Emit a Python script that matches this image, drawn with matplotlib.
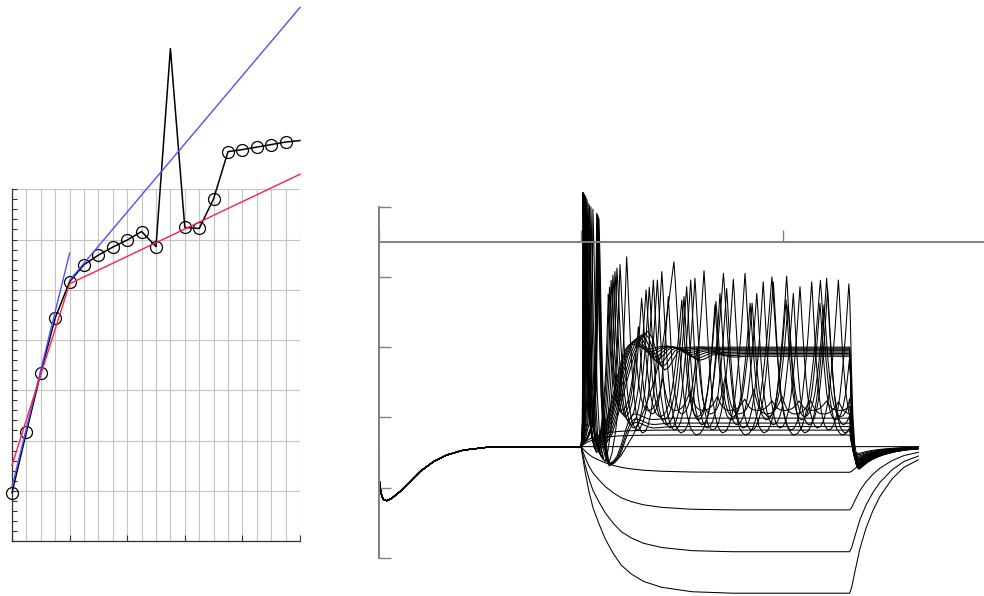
import numpy as np
import matplotlib
matplotlib.use('Agg')
import matplotlib.pyplot as plt

# ---------------- left panel: rate vs current step ----------------
fi_step = list(range(21))
fi_rate = [9.6, 21.7, 33.5, 44.4, 51.6, 55.0, 56.9, 58.5, 59.9, 61.6, 58.6,
           98.0, 62.4, 62.2, 68.1, 77.5, 77.9, 78.4, 78.9, 79.4, 79.7]
fi_marked = [0, 1, 2, 3, 4, 5, 6, 7, 8, 9, 10, 12, 13, 14, 15, 16, 17, 18, 19]
blue_fit_low = ([0, 4], [10.8, 57.3])
blue_fit_high = ([4, 20], [51.9, 106.2])
red_fit = ([0, 4, 20], [15.1, 51.2, 73.0])

# ---------------- right panel: voltage traces (ms, mV) ----------------
rest_v = -58.3
stim_on, stim_off, t_end = 100.0, 233.0, 267.0
init_t = [0, 0.15, 1.0, 2.1, 3.8, 6.3, 10.4, 15.3, 20.3, 26.9, 33.5, 41.7, 53.3, 70, 100]
init_v = [-60.2, -67.8, -71.6, -73.3, -73.7, -73.0, -71.1, -68.3, -65.4, -62.6,
          -60.7, -59.3, -58.5, -58.3, -58.3]

# shapes (time offset / fraction of the change)
charge_dt = [0, 2, 4, 6, 9, 12, 16, 20, 25, 31, 40, 55, 75, 133]
charge_f = [0, .17, .31, .42, .53, .63, .73, .81, .87, .92, .96, .99, 1.0, 1.0]
recover_dt = [0, 1, 2.5, 5, 8, 11.4, 15, 21, 27, 34]
recover_f = [0, .04, .14, .30, .44, .56, .66, .78, .86, .91]
up_t = [0, .4, .7, .85, .93, 1.0]
up_f = [0, .04, .1, .25, .6, 1.0]
fall_t = [0, .08, .2, .35, .55, .78, 1.0]
fall_f = [0, .15, .45, .72, .9, .98, 1.0]
rise_t = [0, .18, .37, .55, .7, .82, .91, 1.0]
rise_f = [0, .05, .15, .28, .42, .58, .78, 1.0]
cyc_fall_t = [0, .05, .1, .18, .25, .35, .45, .6, .75, .9, 1.0]
cyc_fall_f = [0, .09, .2, .36, .5, .65, .78, .89, .96, .99, 1.0]
cyc_rise_t = [0, .15, .3, .43, .55, .65, .75, .83, .9, .95, 1.0]
cyc_rise_f = [0, .01, .05, .12, .22, .35, .5, .64, .78, .89, 1.0]
hump_t = [0, .15, .3, .45, .6, .75, .88, 1.0]
hump_f = [0, .05, .15, .35, .6, .82, .95, 1.0]
half_t = [0, .25, .5, .75, 1.0]
half_f = [0, .15, .5, .85, 1.0]
ring = [1.0, -0.55, 0.3, -0.16, 0.08, -0.03, 0.0]

hyper_levels = [-65.6, -76.3, -88.2, -100.0]
sub_levels = [-55.0, -53.6]
sub_post = [-60.2, -60.6]

settle_tp = [108.9, 108.6, 108.3]
settle_peak = [6.5, 7.0, 7.5]
settle_trough = [-63.5, -63.3, -63.1]
settle_level = [-52.6, -51.6, -50.2]
settle_post = [-61.0, -61.3, -61.6]

train_tp = [108.0, 107.8, 105.9, 104.9, 104.2, 103.5, 103.0, 102.5, 102.3]
train_onset_peak = [7.8, 8.1, 9.3, 9.9, 10.4, 11.0, 11.9, 12.4, 12.6]
train_trough1 = [-63.8, -63.0, -62.6, -62.0, -61.3, -60.5, -59.5, -58.5, -58.0]
train_spikes = [
    [146.0, 170.5, 194.5, 218.5],
    [122.6, 140.0, 160.9, 181.2, 201.8, 221.6],
    [119.3, 137.8, 156.4, 175.4, 195.2, 214.2, 232.6],
    [117.8, 135.8, 154.3, 172.1, 190.2, 208.4, 227.4],
    [116.8, 133.8, 152.3, 168.8, 187.0, 205.1, 222.1],
    [115.8, 132.2, 151.0, 166.3, 183.7, 201.5, 218.3],
    [114.9, 130.0, 149.9, 166.8, 184.7, 202.5, 220.3],
    [114.1, 128.4, 143.2, 157.5, 171.5, 185.5, 199.5, 213.5, 227.5],
    [113.5, 127.0, 140.5, 154.0, 167.5, 181.0, 194.5, 208.0, 221.5],
]
train_peaks = [
    [-5.7, -9.0, -10.0, -11.0],
    [-4.3, -8.5, -8.3, -9.0, -9.8, -10.4],
    [-6.5, -10.9, -10.4, -10.7, -11.4, -11.4, -12.0],
    [-7.5, -10.9, -10.9, -13.3, -11.4, -12.8, -10.9],
    [-8.5, -13.0, -12.8, -14.7, -14.7, -14.7, -13.5],
    [-9.5, -13.7, -15.6, -18.0, -17.5, -16.5, -17.5],
    [-11.0, -16.1, -16.6, -17.0, -17.5, -18.0, -18.0],
    [-13.0, -24.2, -15.6, -30.0, -38.0, -42.0, -44.0, -45.0, -45.5],
    [-15.0, -32.0, -39.0, -42.5, -44.0, -44.8, -45.2, -45.3, -45.3],
]
train_trough = [-55.0, -54.4, -53.6, -53.0, -52.1, -50.7, -49.8, -49.0, -48.0]
train_post = [-61.8, -62.0, -62.2, -62.4, -62.6, -62.8, -63.0, -63.2, -63.3]

block_tp = [102.2, 102.0, 101.8, 101.6, 101.4, 101.2, 101.0, 100.9]
block_peak = [12.8, 13.0, 13.2, 13.4, 13.6, 13.8, 13.9, 14.0]
block_trough = [-60.0, -59.5, -59.0, -58.5, -58.0, -57.5, -57.0, -56.5]
block_hump_t = [133.0, 131.5, 130.0, 128.5, 127.5, 126.5, 125.5, 124.5]
block_hump_v = [-25.5, -26.0, -26.5, -27.0, -27.5, -28.0, -28.5, -29.0]
block_level = [-32.6, -32.2, -31.8, -31.4, -31.0, -30.6, -30.3, -30.0]
block_post = [-63.5, -63.7, -63.9, -64.1, -64.3, -64.5, -64.6, -64.7]


def offs(t0, v0, v1, dt, f):
    return [t0 + d for d in dt], [v0 + (v1 - v0) * x for x in f]


def scaled(t0, t1, v0, v1, st, sf):
    return offs(t0, v0, v1, [(t1 - t0) * s for s in st], sf)


class Trace:
    def __init__(self):
        self.t = list(init_t)
        self.v = list(init_v)

    def add(self, part):
        self.t += part[0][1:]
        self.v += part[1][1:]

    def cut_and_end(self, post_trough):
        t = np.array(self.t)
        v = np.array(self.v)
        keep = t < stim_off
        v_off = np.interp(stim_off, t, v)
        self.t = list(t[keep]) + [stim_off]
        self.v = list(v[keep]) + [v_off]
        self.add(scaled(stim_off, stim_off + 4.5, v_off, post_trough, fall_t, fall_f))
        self.add(offs(stim_off + 4.5, post_trough, rest_v,
                      [d * (t_end - stim_off - 4.5) / 34 for d in recover_dt], recover_f))


def onset(tr, tp, pk, trough, dur=6.0):
    tr.add(scaled(stim_on, tp, rest_v, pk, up_t, up_f))
    tr.add(scaled(tp, tp + dur, pk, trough, fall_t, fall_f))
    return tp + dur


traces = []

flat = Trace()
flat.add(([stim_on, t_end], [rest_v, rest_v]))
traces.append(flat)

for lvl in hyper_levels:
    tr = Trace()
    tr.add(offs(stim_on, rest_v, lvl, charge_dt, charge_f))
    tr.add(offs(stim_off, lvl, rest_v, recover_dt, recover_f))
    traces.append(tr)

for lvl, post in zip(sub_levels, sub_post):
    tr = Trace()
    tr.add(offs(stim_on, rest_v, lvl, [d * 0.6 for d in charge_dt], charge_f))
    tr.cut_and_end(post)
    traces.append(tr)

for tp, pk, tro, lvl, post in zip(settle_tp, settle_peak, settle_trough, settle_level, settle_post):
    tr = Trace()
    t0 = onset(tr, tp, pk, tro)
    tr.add(scaled(t0, t0 + 12, tro, lvl + 1.2, hump_t, hump_f))
    tr.add(scaled(t0 + 12, t0 + 21, lvl + 1.2, lvl - 0.4, half_t, half_f))
    tr.add(scaled(t0 + 21, t0 + 30, lvl - 0.4, lvl, half_t, half_f))
    tr.add(([t0 + 30, stim_off + 1], [lvl, lvl]))
    tr.cut_and_end(post)
    traces.append(tr)

for k in range(len(train_tp)):
    tr = Trace()
    t0 = onset(tr, train_tp[k], train_onset_peak[k], train_trough1[k])
    sp, pkv, tro = train_spikes[k], train_peaks[k], train_trough[k]
    tr.add(scaled(t0, sp[0], train_trough1[k], pkv[0], rise_t, rise_f))
    for i in range(len(sp)):
        if i + 1 < len(sp):
            isi, nxt_t, nxt_v = sp[i + 1] - sp[i], sp[i + 1], pkv[i + 1]
        else:
            isi = sp[i] - sp[i - 1]
            nxt_t, nxt_v = sp[i] + isi, pkv[i]
        tm = sp[i] + 0.45 * isi
        tr.add(scaled(sp[i], tm, pkv[i], tro, cyc_fall_t, cyc_fall_f))
        tr.add(scaled(tm, nxt_t, tro, nxt_v, cyc_rise_t, cyc_rise_f))
    tr.cut_and_end(train_post[k])
    traces.append(tr)

for k in range(len(block_tp)):
    tr = Trace()
    t0 = onset(tr, block_tp[k], block_peak[k], block_trough[k], dur=5.5)
    ht, hv, lvl = block_hump_t[k], block_hump_v[k], block_level[k]
    tr.add(scaled(t0, ht, block_trough[k], hv, hump_t, hump_f))
    prev_t, prev_v = ht, hv
    for j in range(1, len(ring)):
        nt, nv = ht + 8.5 * j, lvl + (hv - lvl) * ring[j]
        tr.add(scaled(prev_t, nt, prev_v, nv, half_t, half_f))
        prev_t, prev_v = nt, nv
    tr.add(([prev_t, stim_off + 1], [prev_v, lvl]))
    tr.cut_and_end(block_post[k])
    traces.append(tr)

# ---------------- figure ----------------
fig = plt.figure(figsize=(9.84, 5.96), dpi=100)

ax1 = fig.add_axes([12 / 984, 55 / 596, 288 / 984, 351.7 / 596])
ax1.set_xlim(0, 20)
ax1.set_ylim(0, 70)
for gx in range(21):
    ax1.axvline(gx, color='#c4c4c4', lw=0.8, zorder=0)
for gy in range(0, 71, 10):
    ax1.axhline(gy, color='#c4c4c4', lw=0.8, zorder=0)
ax1.set_xticks([0, 4, 8, 12, 16, 20])
ax1.set_yticks(range(0, 71, 2))
ax1.tick_params(axis='x', direction='in', length=4, width=0.8, color='#303030',
                labelbottom=False)
ax1.tick_params(axis='y', direction='in', length=3.5, width=0.8, color='#303030',
                labelleft=False)
for s in ['top', 'right']:
    ax1.spines[s].set_visible(False)
for s in ['left', 'bottom']:
    ax1.spines[s].set_color('#303030')
    ax1.spines[s].set_linewidth(0.9)

ax1.plot(fi_step, fi_rate, color='black', lw=1.1, clip_on=False, zorder=3)
ax1.plot([fi_step[i] for i in fi_marked], [fi_rate[i] for i in fi_marked], 'o',
         mfc='none', mec='black', ms=8.6, mew=0.9, clip_on=False, zorder=3)
ax1.plot(*blue_fit_low, color='#5050ff', lw=1.0, clip_on=False, zorder=4)
ax1.plot(*blue_fit_high, color='#5050ff', lw=1.0, clip_on=False, zorder=4)
ax1.plot(*red_fit, color='#ff1f4b', lw=1.0, clip_on=False, zorder=5)

# right panel: full figure height, 2.02 px per ms
v_per_px = 20 / 70.3
ax2 = fig.add_axes([379 / 984, 0, 606 / 984, 1])
ax2.set_xlim(0, 300)
ax2.set_ylim((241.7 - 596) * v_per_px, 241.7 * v_per_px)
for tr in traces:
    ax2.plot(tr.t, tr.v, color='black', lw=0.75)
for s in ['top', 'right']:
    ax2.spines[s].set_visible(False)
ax2.spines['bottom'].set_position(('data', 0))
ax2.spines['bottom'].set_bounds(0, 300)
ax2.spines['left'].set_bounds(-90, 10)
for s in ['left', 'bottom']:
    ax2.spines[s].set_color('#808080')
    ax2.spines[s].set_linewidth(1.4)
ax2.set_xticks([0, 100, 200, 300])
ax2.set_yticks([-90, -70, -50, -30, -10, 10])
ax2.tick_params(direction='in', length=8.5, width=1.0, color='#808080',
                labelbottom=False, labelleft=False)

plt.savefig('out.png', dpi=100)
